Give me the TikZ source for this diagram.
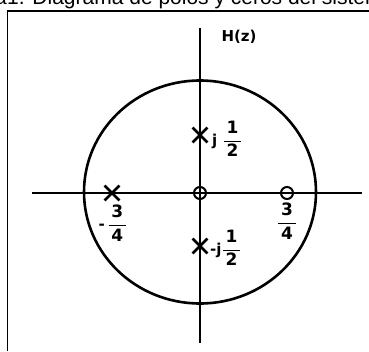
\documentclass[tikz,border=0pt]{standalone}
\usepackage{fontspec}
\setmainfont{DejaVu Sans}
\newfontfamily\titlefont{Liberation Sans}
\usetikzlibrary{shapes.misc}

\newcommand{\fraccion}[2]{{\fontsize{17}{20}\selectfont$\displaystyle\frac{\mbox{\,#1\,}}{\mbox{\,#2\,}}$}}

\begin{document}
\begin{tikzpicture}[x=1pt,y=-1pt,
  polo/.style={cross out,draw,line width=2.8pt,minimum size=12pt,inner sep=0pt},
  cero/.style={circle,draw,line width=2pt,minimum size=12pt,inner sep=0pt},
  etiqueta/.style={font=\fontsize{15}{18}\selectfont\bfseries,inner sep=0pt},
  titulo/.style={font=\titlefont\fontsize{21}{25}\selectfont,inner sep=0pt},
  eje/.style={line width=1.2pt}]

\useasboundingbox (0,0) rectangle (369,351);
\clip (0,0) rectangle (369,351);

% Title
\node[titulo,anchor=base west] (titulo) at (7,4.5)
{1. Diagrama de polos y ceros del sistema};
\node[titulo,anchor=base east] (figura) at (titulo.base west) {Figura\ };

% Frame
\coordinate (marcoA) at (7.5,351);
\coordinate (marcoB) at (7.5,11);
\coordinate (marcoC) at (369,11);
\draw[line width=1.2pt] (marcoA) -- (marcoB) -- (marcoC);

% Axes
\coordinate (arriba) at (200,28);
\coordinate (abajo) at (200,343);
\coordinate (izq) at (32,193);
\coordinate (der) at (362,193);
\draw[eje] (izq) -- (der);
\draw[eje] (arriba) -- (abajo);

% Unit circle
\draw[line width=2.6pt] (200,192) ellipse [x radius=116, y radius=111.5];

% Poles
\node[polo] (p1) at (200,135) {};
\node[polo] (p2) at (200,246) {};
\node[polo] (p3) at (112,193) {};

% Zeros
\node[cero] (c1) at (200,193) {};
\node[cero] (c2) at (287,193) {};

% Labels
\node[etiqueta] (hz) at (239,37) {H(z)};
\node[etiqueta,anchor=west] (lp1) at (212,139) {j \fraccion{1}{2}};
\node[etiqueta,anchor=west] (lp2) at (210,248) {-j\fraccion{1}{2}};
\node[etiqueta] (lp3) at (113,223) {-\,\fraccion{3}{4}};
\node[etiqueta] (lc2) at (287,221) {\fraccion{3}{4}};

\end{tikzpicture}
\end{document}
